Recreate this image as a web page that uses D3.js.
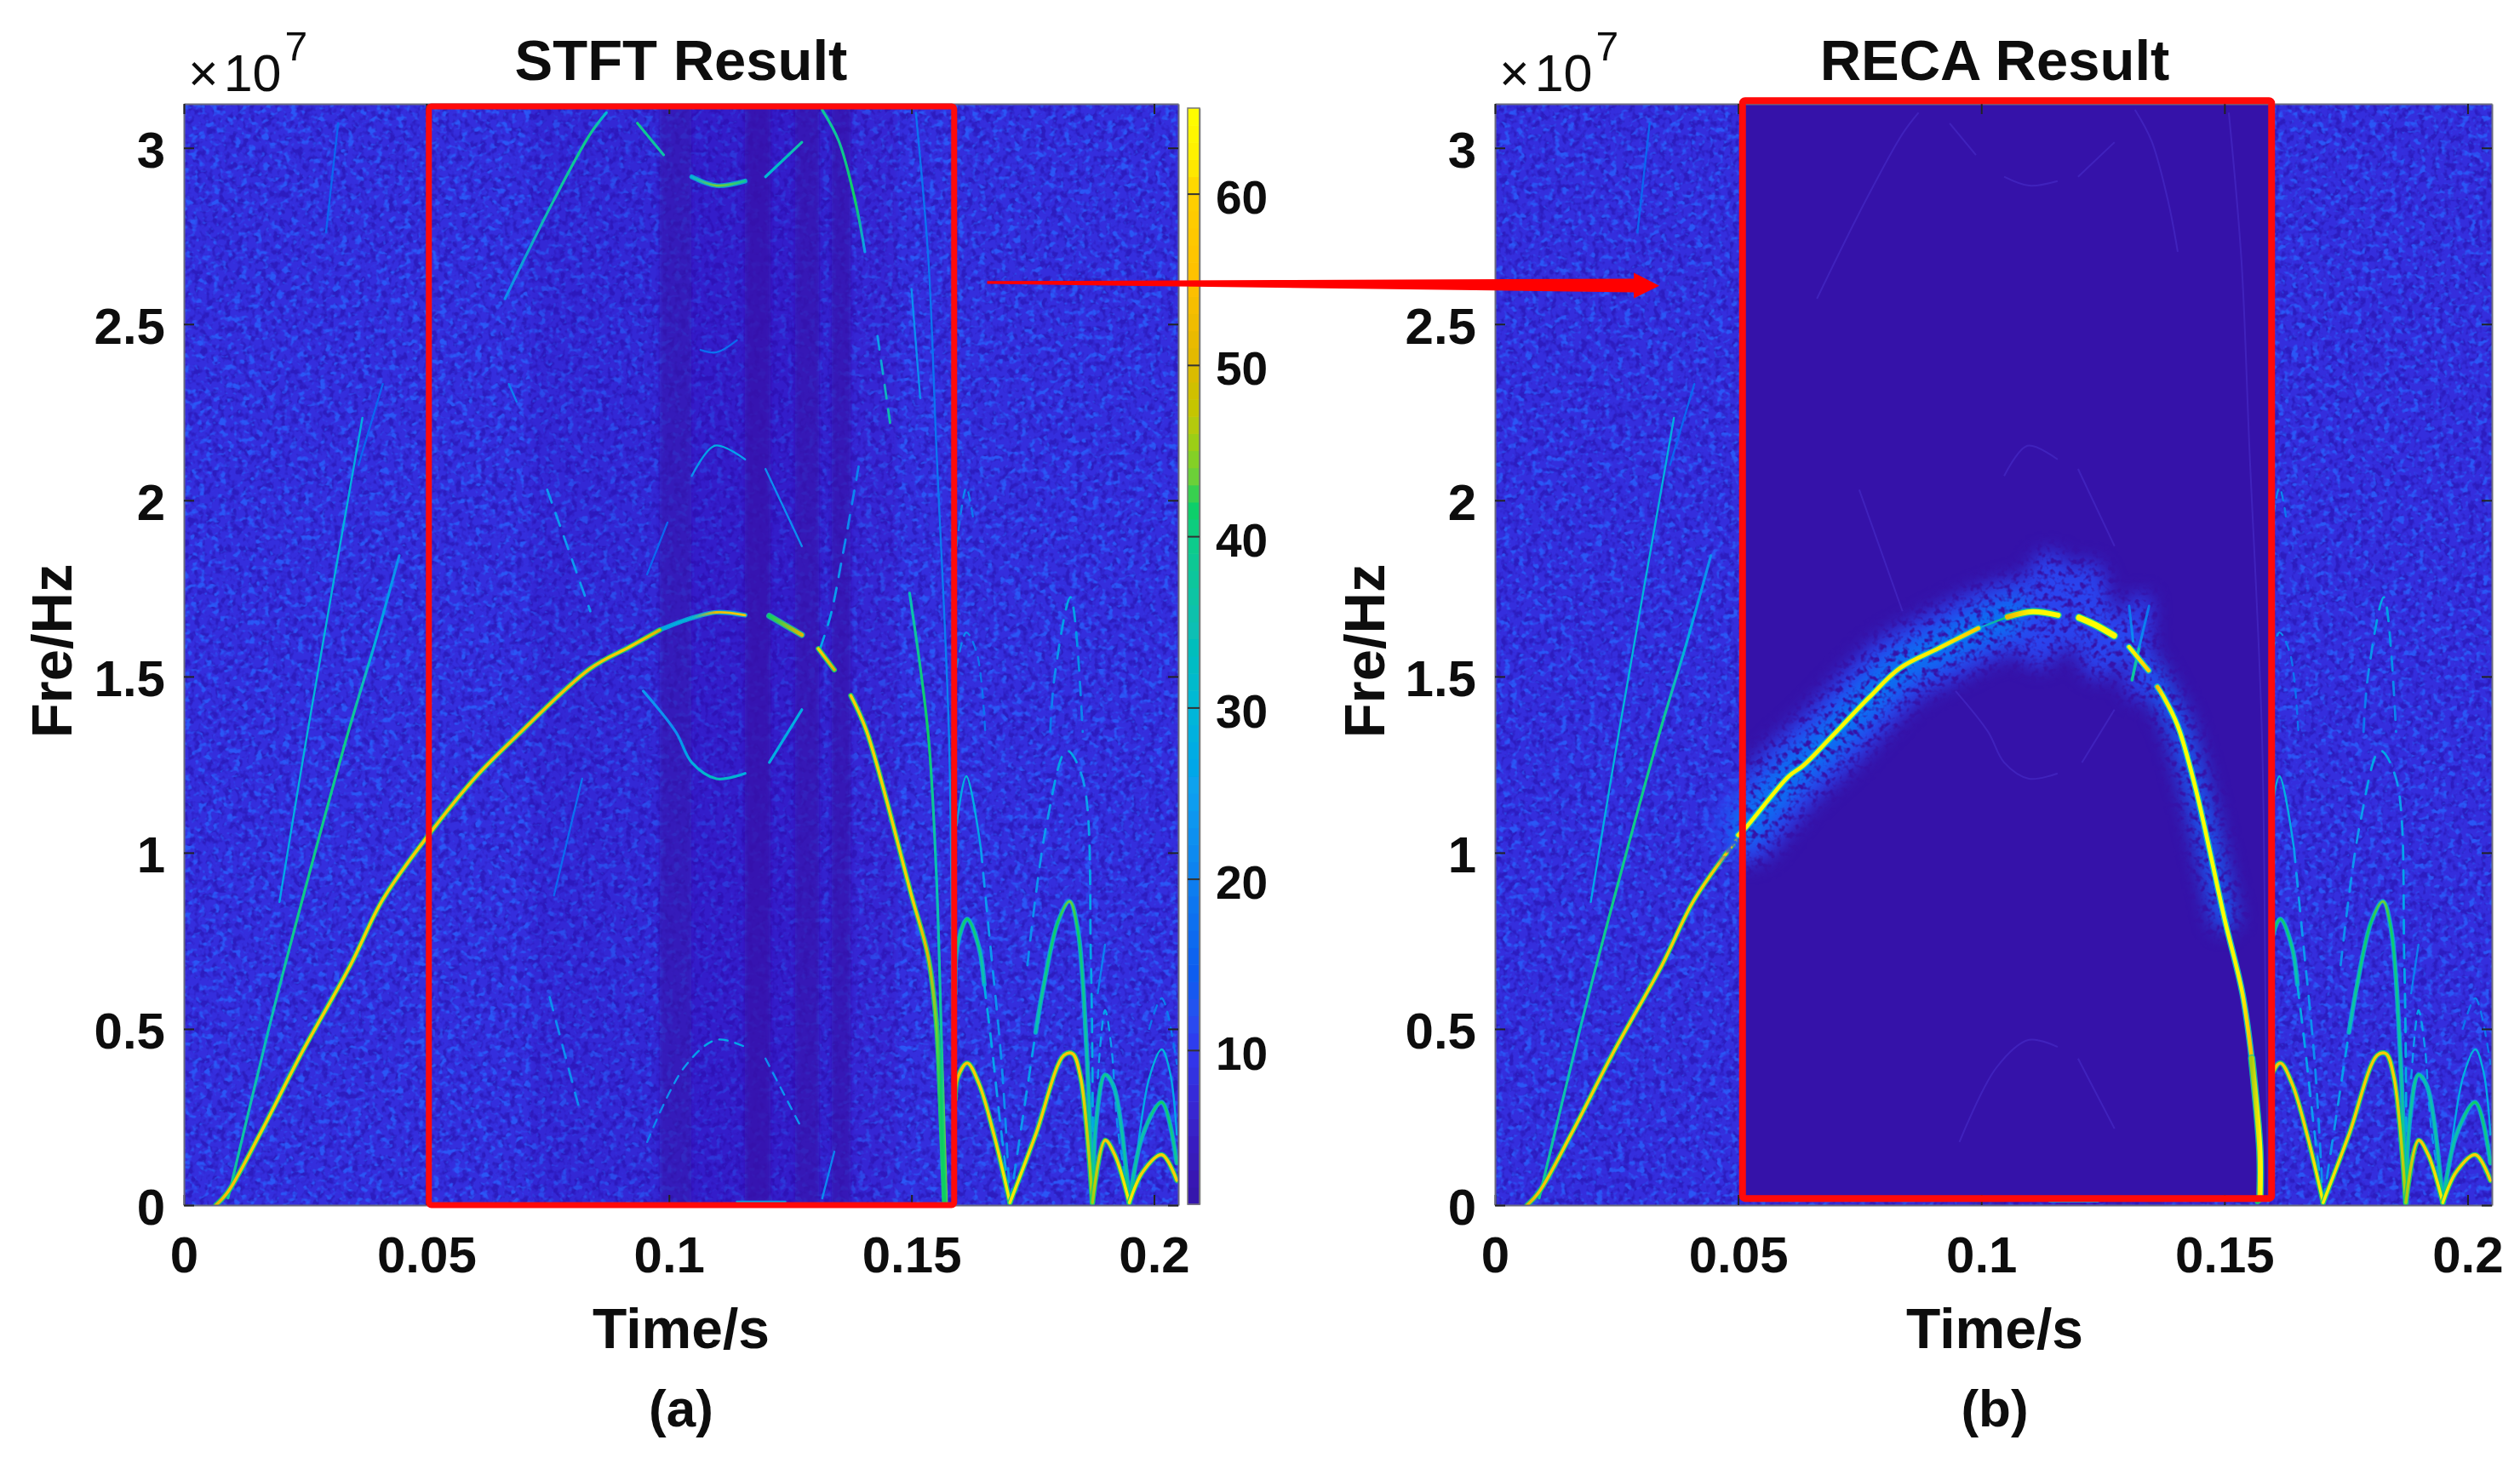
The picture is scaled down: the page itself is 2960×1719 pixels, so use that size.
<!DOCTYPE html>
<html>
<head>
<meta charset="utf-8">
<script src="https://cdn.jsdelivr.net/npm/d3@7/dist/d3.min.js"></script>
<style>
html,body{margin:0;padding:0;background:#fff;}
svg{display:block;}
text{font-family:"Liberation Sans",Arial,sans-serif;fill:#111;}
</style>
</head>
<body>
<script>
// ---------- axis values ----------
const timeTicks = [0, 0.05, 0.1, 0.15, 0.2];
const freqTicks = [0, 0.5, 1, 1.5, 2, 2.5, 3];
const cbarTicks = [10, 20, 30, 40, 50, 60];
const timeMax = 0.205, freqMax = 3.125, levelMin = 1, levelMax = 65;

// ---------- noise floor: vertical stripes [t start, t end, level] ----------
const noiseFloor = 8;
const stripes = [
  [0.0715, 0.0981, 7.0], [0.0981, 0.1047, 3.4], [0.1047, 0.1157, 5.4], [0.1157, 0.1210, 2.2],
  [0.1210, 0.1260, 5.4], [0.1260, 0.1310, 2.8], [0.1310, 0.1335, 6.2], [0.1335, 0.1375, 2.8],
  [0.1375, 0.1470, 6.8]
];

// ---------- ridges: [t (s), f (1e7 Hz), level] ----------
const mainA = [[.0066,.0,50],[.0091,.038,56],[.0158,.205,60],[.0242,.43,60],[.0343,.68,60],[.041,.867,60],[.0502,1.046,58],[.0603,1.217,58],[.0695,1.343,56],[.0838,1.523,56],[.092,1.585,60],[.0981,1.632,50]];
const mainB = [[.0981,1.632,26],[.1047,1.666,30],[.1098,1.682,52],[.1157,1.674,58]];
const mainC = [[.1207,1.672,42],[.1274,1.618,50]];
const mainD = [[.1308,1.579,60],[.1341,1.519,50]];
const mainE = [[.1375,1.446,60],[.1408,1.343,60],[.15,.879,60],[.1534,.708,50],[.1551,.522,44],[.156,.285,42],[.1568,.01,42]];
const fundArc1 = [[.1590,.30,46],[.1595,.361,56],[.1615,.403,58],[.1639,.345,60],[.167,.2,60],[.1703,.007,62]];
const fundArc2 = [[.1703,.007,62],[.1756,.2,60],[.1814,.425,58],[.1832,.43,58],[.1849,.36,60],[.1873,.007,46]];
const fundArc3 = [[.1873,.007,46],[.1899,.184,58],[.1919,.143,60],[.1949,.007,62]];
const fundArc4 = [[.1949,.007,62],[.1977,.095,60],[.2016,.143,60],[.2047,.07,60]];
const secondRise = [[.0091,.02,38],[.0175,.5,34],[.0234,.814,40],[.0339,1.343,40],[.0395,1.6,28],[.0444,1.843,22]];
const thirdRise = [[.0197,.86,26],[.0255,1.343,30],[.0368,2.234,28]];
const faintRise1 = [[.0318,3.07,16],[.0293,2.76,16]];
const faintRise2 = [[.041,2.33,16],[.036,2.1,16]];
const alias1 = [[.0662,2.572,22],[.0762,2.85,36],[.0838,3.04,40],[.0871,3.10,30]];
const alias2 = [[.0935,3.07,40],[.0989,2.98,36]];
const alias3 = [[.1047,2.918,30],[.1098,2.893,44],[.1157,2.906,38]];
const alias4 = [[.1199,2.918,30],[.1274,3.016,36]];
const alias5 = [[.1316,3.108,38],[.135,3.02,38],[.1384,2.85,42],[.1404,2.705,24]];
const alias6 = [[.143,2.466,24],[.1459,2.19,38]];
const upper1 = [[.0749,2.03,24],[.0838,1.685,24]];
const upper2 = [[.067,2.33,20],[.0686,2.28,20]];
const upper3 = [[.1047,2.069,22],[.1095,2.155,28],[.1157,2.116,24]];
const upper4 = [[.1199,2.089,22],[.1274,1.87,22]];
const upper5 = [[.1065,2.427,16],[.1098,2.42,18],[.114,2.454,16]];
const upper6 = [[.0997,1.937,16],[.0955,1.79,16]];
const upper7 = [[.1391,2.096,20],[.1358,1.843,22],[.1333,1.672,26],[.1308,1.565,26]];
const steepGreen = [[.1496,1.737,34],[.1534,1.343,42],[.1551,.947,34],[.1563,.416,38],[.1572,.01,44]];
const steepCyan = [[.1509,3.10,18],[.1535,2.68,18],[.1551,2.16,18],[.1577,1.343,20],[.1585,.5,24],[.159,.01,24]];
const steepCyan2 = [[.15,2.6,22],[.1518,2.29,22]];
const lowerA = [[.0947,1.459,24],[.1014,1.343,22],[.1047,1.256,28],[.1098,1.21,34],[.1157,1.225,28]];
const lowerB = [[.1207,1.256,28],[.1274,1.406,28]];
const lowerC = [[.0754,.59,22],[.0813,.285,22]];
const lowerD = [[.0955,.179,20],[.1031,.39,24],[.1098,.469,28],[.1157,.449,26]];
const lowerE = [[.1199,.416,22],[.1274,.217,24]];
const lowerF = [[.1316,.019,22],[.1341,.152,20]];
const lowerG = [[.0821,1.21,18],[.0763,.879,16]];
const floorTrace = [[.114,.01,26],[.124,.01,26]];
const secondArc1 = [[.1590,.6,30],[.1595,.739,38],[.1615,.812,42],[.1639,.732,40],[.165,.626,34]];
const secondArc1b = [[.165,.626,28],[.1665,.457,26],[.1683,.232,24],[.1703,.007,26]];
const secondArc2a = [[.1703,.007,22],[.1756,.49,26]];
const secondArc2b = [[.1756,.49,34],[.1773,.626,40],[.1802,.804,42],[.1826,.862,44],[.1843,.78,42],[.1861,.442,36],[.1873,.007,38]];
const secondArc3 = [[.1873,.007,38],[.1881,.24,36],[.1899,.37,40],[.1917,.336,34],[.1949,.007,38]];
const secondArc4 = [[.1949,.007,38],[.1977,.2,36],[.2016,.292,42],[.2047,.119,38]];
const thirdArc1a = [[.1593,1.077,24],[.1613,1.217,30],[.1643,1.012,26]];
const thirdArc1b = [[.1643,1.012,24],[.166,.772,24],[.1686,.4,22],[.1703,.007,22]];
const thirdArc2 = [[.1739,.681,22],[.1778,1.077,24],[.182,1.29,28],[.1853,1.21,24],[.187,.681,26],[.1874,.05,28]];
const fourthArc1 = [[.1593,1.526,20],[.1613,1.625,22],[.1635,1.565,18],[.1652,1.343,18]];
const fourthArc2 = [[.1786,1.343,18],[.1795,1.5,22],[.1828,1.725,28],[.1853,1.343,20]];
const fifthArc1 = [[.1593,1.87,18],[.1613,2.036,22],[.1627,1.95,18]];
const thirdArc3 = [[.1884,.36,24],[.1899,.553,26],[.1912,.45,24],[.1925,.22,22],[.1949,.01,26]];
const fourthArc3 = [[.1884,.601,20],[.1899,.739,20]];
const thirdArc4 = [[.196,.087,26],[.199,.36,28],[.2016,.442,30],[.2033,.377,28],[.2047,.2,26]];
const fourthArc4 = [[.199,.5,18],[.2016,.587,20],[.2047,.4,18]];

// RECA-only ridges inside the red box of panel (b)
const recaA = [[.0500,1.05,62],[.0515,1.07,64],[.0604,1.217,64],[.0633,1.246,62],[.069,1.326,64],[.0769,1.44,64],[.0833,1.524,62],[.0912,1.58,62],[.0994,1.637,58]];
const recaB = [[.0994,1.637,24],[.1054,1.669,42]];
const recaC = [[.1054,1.669,52],[.1105,1.684,64],[.1158,1.674,64]];
const recaD = [[.1201,1.667,64],[.1235,1.646,65],[.1273,1.616,64]];
const recaE = [[.1304,1.584,64],[.1344,1.517,60]];
const recaF = [[.1362,1.471,54],[.1373,1.447,62],[.1404,1.36,65],[.1441,1.181,65],[.15,.814,65],[.1537,.601,62],[.1556,.417,54]];
const recaG = [[.1556,.417,46],[.1573,.152,62],[.1573,.019,64]];
const recaCrossA = [[.1310,1.490,38],[.1325,1.585,34]];
const recaCrossB = [[.1325,1.585,22],[.1345,1.70,18]];
const recaCrossC = [[.1304,1.70,18],[.1312,1.60,22]];
const haloWide = [[.0515,1.07],[.0604,1.217],[.069,1.326],[.0769,1.44],[.0833,1.524],[.0912,1.58],[.0994,1.637],[.1054,1.669],[.1105,1.684],[.1158,1.674]];
const haloMid = [[.1201,1.667],[.1235,1.646],[.1273,1.616]];
const haloNarrow = [[.1304,1.584],[.1344,1.517],[.1373,1.447],[.1404,1.36],[.1441,1.181],[.15,.814]];
const plumeA = [[.1118,1.58],[.114,1.80]];
const plumeB = [[.1245,1.55],[.1215,1.77]];
const plumeC = [[.1320,1.47],[.1325,1.70]];

// ---------- annotations ----------
const stftBox = [0.0505, 0.1588, 0, 3.118];
const recaBox = [0.0509, 0.1597, 0.019, 3.134];
const arrowFrom = [0.1656, 2.618];
const arrowTo = [0.0338, 2.609];

const titles = ["STFT Result", "RECA Result"];
const captions = ["(a)", "(b)"];
const xLabel = "Time/s", yLabel = "Fre/Hz";

// ---------- colour scale ----------
const colourStops = [1,5,10,12,15,20,25,30,35,40,42,43,45,47,50,55,60,62,65];
const colourHexes = ["#3510a8","#3a20c4","#3038ee","#2850f0","#0860f0","#0880f0","#08a0f0","#00b8d8","#08c0b0","#10cc88","#10d060","#60d040","#90d020","#c0c800","#e0b800","#ffc000","#ffd000","#ffee00","#ffff00"];
const colour = d3.scaleLinear().domain(colourStops).range(colourHexes).clamp(true);

const W = 2960, H = 1719;
const svg = d3.select("body").append("svg").attr("width", W).attr("height", H).attr("viewBox",`0 0 ${W} ${H}`);
const defs = svg.append("defs");

function speckleFilter(id, freq, seed, hex, gain, offset, channel){
  const f = defs.append("filter").attr("id", id).attr("x",0).attr("y",0).attr("width",1).attr("height",1)
    .attr("color-interpolation-filters","sRGB");
  f.append("feTurbulence").attr("type","fractalNoise").attr("baseFrequency",freq).attr("numOctaves",2).attr("seed",seed);
  const c = d3.rgb(hex);
  const row = channel === 0 ? `${gain} 0 0 0 ${offset}` : `0 ${gain} 0 0 ${offset}`;
  f.append("feColorMatrix").attr("type","matrix")
    .attr("values",`0 0 0 0 ${c.r/255} 0 0 0 0 ${c.g/255} 0 0 0 0 ${c.b/255} ${row}`);
}
speckleFilter("speckleLight","0.12 0.14",4,"#2a56f6",5,-2.65,0);
speckleFilter("speckleDark","0.14 0.12",9,"#2c1cc0",4.5,-2.1,1);

const soft = defs.append("filter").attr("id","soft").attr("x","-5%").attr("y","-5%").attr("width","110%").attr("height","110%");
soft.append("feGaussianBlur").attr("stdDeviation",0.5);
const stripeSoft = defs.append("filter").attr("id","stripeSoft").attr("x","-5%").attr("y","-5%").attr("width","110%").attr("height","110%");
stripeSoft.append("feGaussianBlur").attr("stdDeviation",2.5);
const textSoft = defs.append("filter").attr("id","textSoft").attr("x","-5%").attr("y","-5%").attr("width","110%").attr("height","110%");
textSoft.append("feGaussianBlur").attr("stdDeviation",0.7);

const haloF = defs.append("filter").attr("id","halo").attr("filterUnits","userSpaceOnUse")
  .attr("x",1980).attr("y",560).attr("width",760).attr("height",700).attr("color-interpolation-filters","sRGB");
haloF.append("feGaussianBlur").attr("in","SourceGraphic").attr("stdDeviation",11).attr("result","b");
haloF.append("feTurbulence").attr("type","fractalNoise").attr("baseFrequency",0.14).attr("numOctaves",2).attr("seed",7);
haloF.append("feColorMatrix").attr("type","matrix").attr("values","0 0 0 0 0 0 0 0 0 0 0 0 0 0 0 4 0 0 0 -1.1").attr("result","n");
haloF.append("feComposite").attr("in","b").attr("in2","n").attr("operator","in");

const ridgeLine = (x, y) => d3.line().x(d => x(d[0])).y(d => y(d[1])).curve(d3.curveCatmullRom.alpha(0.5));
let gradId = 0;

function drawRidge(g, x, y, pts, style){
  const id = "g" + (gradId++);
  const x0 = x(d3.min(pts, d => d[0])), x1 = x(d3.max(pts, d => d[0]));
  const grad = defs.append("linearGradient").attr("id", id).attr("gradientUnits","userSpaceOnUse")
    .attr("x1", x0).attr("x2", Math.max(x1, x0 + 1)).attr("y1",0).attr("y2",0);
  const sorted = pts.slice().sort((a,b) => a[0]-b[0]);
  sorted.forEach(p => grad.append("stop")
    .attr("offset", (x(p[0])-x0)/Math.max(x1-x0,1)).attr("stop-color", colour(p[2])));
  const path = ridgeLine(x,y)(pts);
  if (style.edge) {
    g.append("path").attr("d", path).attr("fill","none").attr("stroke", style.edge)
      .attr("stroke-width", style.w + 2.8).attr("stroke-opacity", 0.9).attr("stroke-linecap","round")
      .attr("stroke-dasharray", style.dash || null);
  }
  g.append("path").attr("d", path).attr("fill","none").attr("stroke",`url(#${id})`)
    .attr("stroke-width", style.w).attr("stroke-linecap","round").attr("stroke-dasharray", style.dash || null);
}

const strong = {w:3.4, edge:"#14d070"};
const medium = {w:2.8, edge:"#08a8d8"};
const thin = {w:2.4};
const solid = {w:3.2};
const dashed = {w:2.8, dash:"16 13"};
const dashedFine = {w:2.4, dash:"10 9"};
const sharedRidges = [
  [faintRise1,thin],[faintRise2,thin],[upper2,thin],[upper5,thin],[upper6,thin],[lowerG,thin],[floorTrace,thin],
  [upper1,dashed],[upper3,thin],[upper4,thin],[upper7,dashed],[lowerA,solid],[lowerB,solid],
  [lowerC,dashed],[lowerD,dashedFine],[lowerE,dashedFine],[lowerF,thin],
  [alias1,solid],[alias2,solid],[alias3,medium],[alias4,solid],[alias5,solid],[alias6,dashed],
  [steepCyan,thin],[steepCyan2,thin],[steepGreen,{w:3.2}],
  [thirdRise,thin],[secondRise,{w:3.2}],
  [fifthArc1,dashedFine],[fourthArc1,dashedFine],[fourthArc2,dashed],[fourthArc3,thin],[fourthArc4,dashedFine],
  [thirdArc1b,dashed],[thirdArc2,dashed],[thirdArc3,dashedFine],[thirdArc4,thin],[thirdArc1a,thin],
  [secondArc1,medium],[secondArc1b,dashed],[secondArc2a,dashed],[secondArc2b,medium],[secondArc3,medium],[secondArc4,medium],
  [mainB,medium],[mainC,{w:4.5,edge:"#18b8a0"}],[mainD,strong],[mainA,strong],[mainE,strong],
  [fundArc1,strong],[fundArc2,strong],[fundArc3,strong],[fundArc4,strong]
];

function drawPanel(opts){
  const {left, right, top, bottom, idx} = opts;
  const x = d3.scaleLinear().domain([0, timeMax]).range([left, right]);
  const y = d3.scaleLinear().domain([0, freqMax]).range([bottom, top]);
  const clipId = "clip" + idx;
  defs.append("clipPath").attr("id", clipId).append("rect")
    .attr("x", left).attr("y", top).attr("width", right-left).attr("height", bottom-top);
  const plot = svg.append("g").attr("clip-path",`url(#${clipId})`);
  plot.append("rect").attr("x",left).attr("y",top).attr("width",right-left).attr("height",bottom-top).attr("fill",colour(noiseFloor));
  plot.append("rect").attr("x",left).attr("y",top).attr("width",right-left).attr("height",bottom-top).attr("filter","url(#speckleDark)");
  plot.append("rect").attr("x",left).attr("y",top).attr("width",right-left).attr("height",bottom-top).attr("filter","url(#speckleLight)");
  plot.append("g").attr("filter","url(#stripeSoft)").selectAll("rect").data(stripes).join("rect")
    .attr("x", d => x(d[0])).attr("width", d => x(d[1])-x(d[0]))
    .attr("y", top).attr("height", bottom-top)
    .attr("fill", colour(levelMin)).attr("opacity", d => (noiseFloor-d[2])/(noiseFloor-levelMin));
  const ridgeG = plot.append("g").attr("filter","url(#soft)");
  sharedRidges.forEach(([pts, st]) => drawRidge(ridgeG, x, y, pts, st));
  if (opts.reca) {
    const inner = plot.append("g");
    inner.append("rect")
      .attr("x", x(recaBox[0])).attr("width", x(recaBox[1])-x(recaBox[0]))
      .attr("y", y(recaBox[3])).attr("height", y(recaBox[2])-y(recaBox[3]))
      .attr("fill", "#3512a9");
    const ghost = inner.append("g").attr("opacity",0.3);
    [alias1,alias2,alias3,alias4,alias5,upper1,upper3,upper4,lowerA,lowerB,lowerD,lowerE,steepCyan].forEach(p =>
      ghost.append("path").attr("d", ridgeLine(x,y)(p)).attr("fill","none").attr("stroke","#5a48e8").attr("stroke-width",2));
    const halo = inner.append("g").attr("filter","url(#halo)").attr("fill","none").attr("stroke-linecap","round");
    const hl = d3.line().x(d => x(d[0])).y(d => y(d[1])).curve(d3.curveCatmullRom.alpha(.5));
    [[haloWide,84,"#2a44ee"],[haloWide,40,"#0a70f2"],[haloMid,54,"#2a44ee"],[haloNarrow,30,"#1a58f0"],
     [plumeA,44,"#2a44ee"],[plumeB,46,"#2a44ee"],[plumeC,28,"#2a44ee"]].forEach(([p,wd,c]) =>
      halo.append("path").attr("d",hl(p)).attr("stroke",c).attr("stroke-width",wd));
    const crisp = inner.append("g").attr("filter","url(#soft)");
    const core = {w:4.6, edge:"#10c8c0"};
    [[recaCrossA,{w:3.5}],[recaCrossB,{w:3}],[recaCrossC,{w:3}],[recaB,{w:2.5}],[recaA,core],[recaC,{w:6,edge:"#10c8a0"}],
     [recaD,{w:7,edge:"#10c8a0"}],[recaE,core],[recaF,core],[recaG,{w:6,edge:"#10c8a0"}]]
      .forEach(([p,s]) => drawRidge(crisp, x, y, p, s));
  }

  // axes drawn with D3
  const axG = svg.append("g").attr("filter","url(#textSoft)");
  const bottomAxis = d3.axisBottom(x).tickValues(timeTicks).tickFormat(d => String(d)).tickSizeInner(-12).tickSizeOuter(0).tickPadding(36);
  const leftAxis = d3.axisLeft(y).tickValues(freqTicks).tickFormat(d => String(d)).tickSizeInner(-12).tickSizeOuter(0).tickPadding(22);
  const topAxis = d3.axisTop(x).tickValues(timeTicks).tickFormat("").tickSizeInner(-12).tickSizeOuter(0);
  const rightAxis = d3.axisRight(y).tickValues(freqTicks).tickFormat("").tickSizeInner(-12).tickSizeOuter(0);
  const styleAxis = g => {
    g.selectAll("path").attr("stroke","#6a6a80").attr("stroke-width",2);
    g.selectAll("line").attr("stroke","#222").attr("stroke-width",2);
    g.selectAll("text").attr("font-size",60).attr("font-weight","bold").attr("font-family",'"Liberation Sans",Arial,sans-serif').attr("fill","#111");
  };
  axG.append("g").attr("transform",`translate(0,${bottom})`).call(bottomAxis).call(styleAxis);
  axG.append("g").attr("transform",`translate(${left},0)`).call(leftAxis).call(styleAxis).selectAll("text").attr("dy","0.38em");
  axG.append("g").attr("transform",`translate(0,${top})`).call(topAxis).call(styleAxis);
  axG.append("g").attr("transform",`translate(${right},0)`).call(rightAxis).call(styleAxis);

  // labels
  const mid = opts.mid;
  const T = axG.append("g");
  T.append("text").attr("x",mid).attr("y",94).attr("text-anchor","middle").attr("font-size",67).attr("font-weight","bold").text(titles[idx]);
  T.append("text").attr("x",mid).attr("y",1584).attr("text-anchor","middle").attr("font-size",66).attr("font-weight","bold").text(xLabel);
  T.append("text").attr("x",mid).attr("y",1676).attr("text-anchor","middle").attr("font-size",62).attr("font-weight","bold").text(captions[idx]);
  T.append("text").attr("transform",`translate(${opts.ylabX},765) rotate(-90)`).attr("text-anchor","middle").attr("font-size",67).attr("font-weight","bold").text(yLabel);
  const sci = T.append("text").attr("x",left+5).attr("y",107).attr("font-size",61);
  sci.append("tspan").text("×");
  sci.append("tspan").attr("dx",6).text("10");
  sci.append("tspan").attr("dx",4).attr("dy",-36).attr("font-size",48).text("7");

  return {x, y};
}

const pa = drawPanel({left:216, right:1384, top:122, bottom:1416, idx:0, mid:800, ylabX:84});
const pb = drawPanel({left:1756, right:2927, top:122, bottom:1416, idx:1, mid:2343, ylabX:1626, reca:true});

// ---------- colour bar ----------
const cb = {left:1395, right:1409, top:127, bottom:1415};
const cbScale = d3.scaleLinear().domain([levelMin, levelMax]).range([cb.bottom, cb.top]);
const cbG = svg.append("g").attr("filter","url(#textSoft)");
cbG.selectAll("rect").data(d3.range(levelMin, levelMax)).join("rect")
  .attr("x",cb.left).attr("width",cb.right-cb.left)
  .attr("y",d => cbScale(d+1)).attr("height",d => cbScale(d)-cbScale(d+1)+0.6)
  .attr("fill",d => colour(d+0.5));
const cbAxis = d3.axisRight(cbScale).tickValues(cbarTicks).tickFormat(d => String(d)).tickSizeInner(-14).tickSizeOuter(0).tickPadding(19);
const cbAx = svg.append("g").attr("filter","url(#textSoft)").attr("transform",`translate(${cb.right},0)`).call(cbAxis);
cbAx.select("path").attr("stroke","#777").attr("stroke-width",1.5);
cbAx.selectAll("line").attr("stroke","#333").attr("stroke-width",2);
cbAx.selectAll("text").attr("font-size",55).attr("font-weight","bold").attr("font-family",'"Liberation Sans",Arial,sans-serif').attr("fill","#111").attr("dy","0.42em");
cbG.append("rect").attr("x",cb.left).attr("y",cb.top).attr("width",cb.right-cb.left).attr("height",cb.bottom-cb.top)
  .attr("fill","none").attr("stroke","#777").attr("stroke-width",1.5);

// ---------- red boxes and arrow ----------
const boxes = [[stftBox, pa, 7], [recaBox, pb, 8]];
svg.append("g").selectAll("rect").data(boxes).join("rect")
  .attr("x", d => d[1].x(d[0][0])).attr("width", d => d[1].x(d[0][1]) - d[1].x(d[0][0]))
  .attr("y", d => d[1].y(d[0][3])).attr("height", d => d[1].y(d[0][2]) - d[1].y(d[0][3]))
  .attr("fill","none").attr("stroke","#ff0a0a").attr("stroke-width", d => d[2]).attr("rx",3);

const ax0 = pa.x(arrowFrom[0]), ay0 = pa.y(arrowFrom[1]), ax1 = pb.x(arrowTo[0]), ay1 = pb.y(arrowTo[1]);
const lerpY = u => ay0 + (ay1-ay0)*u;
const hb = ax1 - 30, ub = (hb-ax0)/(ax1-ax0), um = 0.43;
const mx = ax0 + (ax1-ax0)*um;
svg.append("path").attr("fill","#ff0000").attr("d", d3.line()([
  [ax0, ay0-1.6],[mx, lerpY(um)-4.5],[hb, lerpY(ub)-8],[hb, lerpY(ub)-15],[ax1, ay1],
  [hb, lerpY(ub)+15],[hb, lerpY(ub)+8],[mx, lerpY(um)+4.5],[ax0, ay0+1.6]
])+"Z");
</script>
</body>
</html>
